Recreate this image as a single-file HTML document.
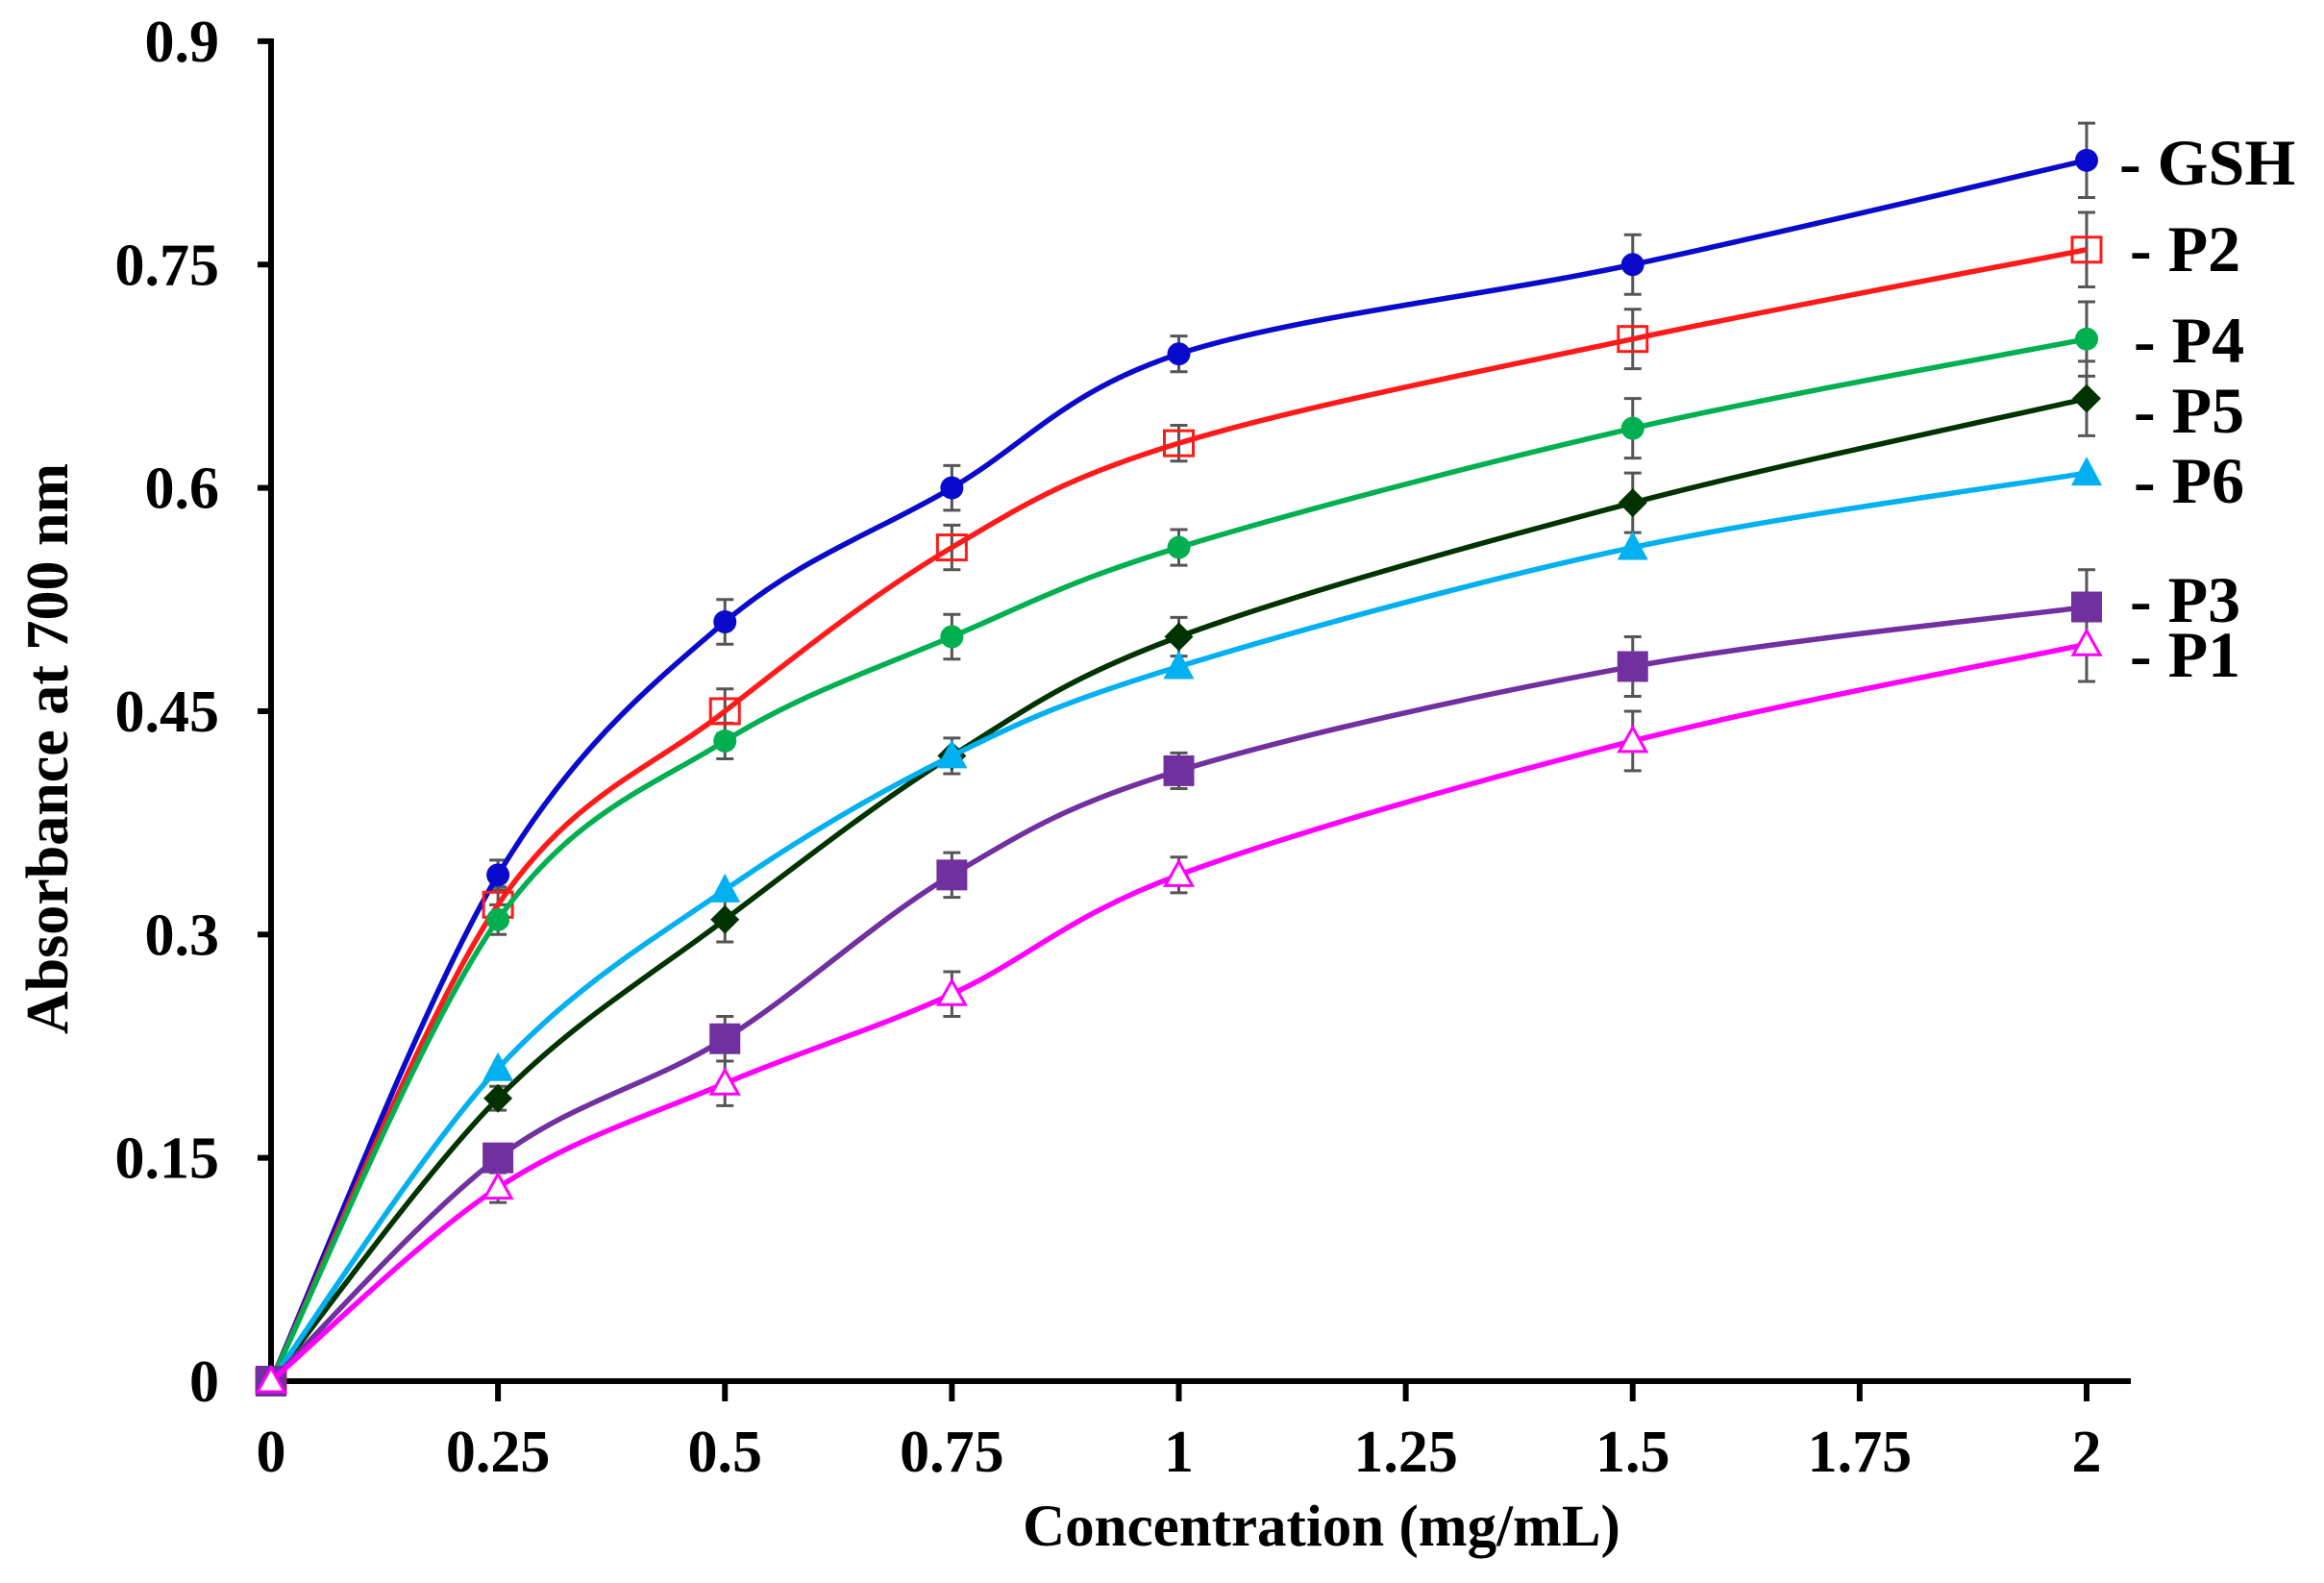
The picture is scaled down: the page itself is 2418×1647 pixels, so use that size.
<!DOCTYPE html>
<html><head><meta charset="utf-8"><style>
html,body{margin:0;padding:0;background:#fff;}
svg{display:block;}
text{font-family:"Liberation Serif",serif;font-weight:bold;fill:#000;}
</style></head><body>
<svg id="s" width="2418" height="1647" xmlns="http://www.w3.org/2000/svg">
<g id="axes" stroke="#000" stroke-width="6" fill="none">
<line x1="282" y1="40" x2="282" y2="1440"/>
<line x1="279" y1="1437" x2="2217" y2="1437"/>
</g>
<g id="ticks" stroke="#000" stroke-width="6"></g>
<g id="lbl" font-size="62"></g>
<text x="1375" y="1608" font-size="61" text-anchor="middle">Concentration (mg/mL)</text>
<text transform="translate(70,779) rotate(-90)" font-size="62" text-anchor="middle">Absorbance at 700 nm</text>
<g id="series"></g>
<g font-size="68">
<text x="2205" y="192">- GSH</text>
<text x="2216" y="282">- P2</text>
<text x="2220" y="377">- P4</text>
<text x="2220" y="450">- P5</text>
<text x="2220" y="523">- P6</text>
<text x="2216" y="647">- P3</text>
<text x="2216" y="704">- P1</text>
</g>
</svg>
<script>
const NS="http://www.w3.org/2000/svg";
const X=v=>282+v*944.5, Y=v=>1437-v*1549;
function el(t,a,p){const e=document.createElementNS(NS,t);for(const k in a)e.setAttribute(k,a[k]);p.appendChild(e);return e;}
const tk=document.getElementById('ticks'),lb=document.getElementById('lbl');
[0,0.15,0.3,0.45,0.6,0.75,0.9].forEach(v=>{el('line',{x1:268,y1:Y(v),x2:282,y2:Y(v)},tk);const t=el('text',{x:228,y:Y(v)+21,'text-anchor':'end'},lb);t.textContent=v;});
[0.25,0.5,0.75,1,1.25,1.5,1.75,2].forEach(v=>{el('line',{x1:X(v),y1:1437,x2:X(v),y2:1458},tk);});
[0,0.25,0.5,0.75,1,1.25,1.5,1.75,2].forEach(v=>{const t=el('text',{x:X(v),y:1531,'text-anchor':'middle'},lb);t.textContent=v;});
const xs=[0,0.25,0.5,0.75,1,1.5,2];
const S=[
{c:'#0a0acd',m:'circle',d:[0,.34,.51,.60,.69,.75,.82],e:[0,.01,.015,.015,.012,.02,.025]},
{c:'#ff1a1a',m:'osq',d:[0,.32,.45,.56,.63,.70,.76],e:[0,.012,.015,.015,.012,.02,.025]},
{c:'#00b050',m:'circle',d:[0,.31,.43,.50,.56,.64,.70],e:[0,.01,.012,.015,.012,.02,.025]},
{c:'#003300',m:'diamond',d:[0,.19,.31,.42,.50,.59,.66],e:[0,.008,.015,.012,.013,.02,.025]},
{c:'#00b0f0',m:'tri',d:[0,.21,.33,.42,.48,.56,.61],e:[0,0,0,0,0,0,0]},
{c:'#7030a0',m:'sq',d:[0,.15,.23,.34,.41,.48,.52],e:[0,.008,.015,.015,.012,.02,.025]},
{c:'#ff00ff',m:'otri',d:[0,.13,.20,.26,.34,.43,.495],e:[0,.01,.015,.015,.012,.02,.025]},
];
const g=document.getElementById('series');
S.forEach(s=>{xs.forEach((x,i)=>{const e=s.e[i];if(!e)return;const px=X(x);
el('line',{x1:px,y1:Y(s.d[i]+e),x2:px,y2:Y(s.d[i]-e),stroke:'#555','stroke-width':3},g);
el('line',{x1:px-9,y1:Y(s.d[i]+e),x2:px+9,y2:Y(s.d[i]+e),stroke:'#555','stroke-width':3},g);
el('line',{x1:px-9,y1:Y(s.d[i]-e),x2:px+9,y2:Y(s.d[i]-e),stroke:'#555','stroke-width':3},g);});});
S.forEach(s=>{
const P=xs.map((x,i)=>[X(x),Y(s.d[i])]);let d=`M${P[0][0]},${P[0][1]}`;
for(let i=0;i<P.length-1;i++){const p0=P[Math.max(i-1,0)],p1=P[i],p2=P[i+1],p3=P[Math.min(i+2,P.length-1)];const k=1/6;
d+=` C${p1[0]+(p2[0]-p0[0])*k},${p1[1]+(p2[1]-p0[1])*k} ${p2[0]-(p3[0]-p1[0])*k},${p2[1]-(p3[1]-p1[1])*k} ${p2[0]},${p2[1]}`;}
el('path',{d:d,fill:'none',stroke:s.c,'stroke-width':5.5},g);
P.forEach(([x,y])=>{
if(s.m=='circle')el('circle',{cx:x,cy:y,r:12,fill:s.c},g);
else if(s.m=='sq')el('rect',{x:x-16,y:y-16,width:32,height:32,fill:s.c},g);
else if(s.m=='osq')el('rect',{x:x-15,y:y-13,width:30,height:26,fill:'none',stroke:s.c,'stroke-width':3},g);
else if(s.m=='diamond')el('polygon',{points:`${x},${y-15} ${x+15},${y} ${x},${y+15} ${x-15},${y}`,fill:s.c},g);
else if(s.m=='tri')el('polygon',{points:`${x},${y-17} ${x+16},${y+13} ${x-16},${y+13}`,fill:s.c},g);
else if(s.m=='otri')el('polygon',{points:`${x},${y-14} ${x+14},${y+11} ${x-14},${y+11}`,fill:'#fff',stroke:s.c,'stroke-width':3},g);
});});
</script>
</body></html>
